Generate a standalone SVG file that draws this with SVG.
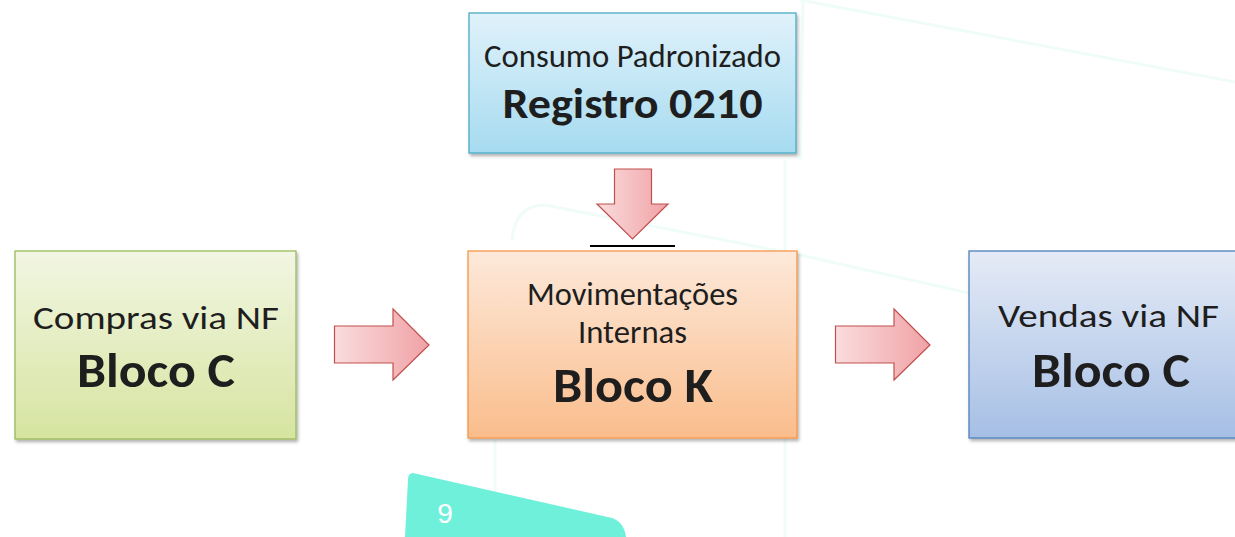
<svg xmlns="http://www.w3.org/2000/svg" width="1235" height="537" viewBox="0 0 1235 537">
<defs>
<linearGradient id="gBlue" x1="0" y1="0" x2="0" y2="1"><stop offset="0" stop-color="#e0f2fa"/><stop offset="1" stop-color="#a6dbf0"/></linearGradient>
<linearGradient id="gGreen" x1="0" y1="0" x2="0" y2="1"><stop offset="0" stop-color="#f2f6e3"/><stop offset="1" stop-color="#d6e4a0"/></linearGradient>
<linearGradient id="gOrange" x1="0" y1="0" x2="0" y2="1"><stop offset="0" stop-color="#fde9da"/><stop offset="1" stop-color="#fabd8c"/></linearGradient>
<linearGradient id="gSteel" x1="0" y1="0" x2="0" y2="1"><stop offset="0" stop-color="#e5ebf6"/><stop offset="1" stop-color="#a6bfe5"/></linearGradient>
<linearGradient id="gArrow" x1="0" y1="0" x2="1" y2="0"><stop offset="0" stop-color="#fadcdd"/><stop offset="1" stop-color="#f0a2a6"/></linearGradient>
<filter id="sh" x="-5%" y="-5%" width="115%" height="120%"><feDropShadow dx="1.5" dy="2.5" stdDeviation="1.5" flood-color="#000" flood-opacity="0.3"/></filter>
</defs>
<style>
.t{font-family:Carlito,Lato,"Open Sans",sans-serif;fill:#1e1e1e;text-anchor:middle}
.r{font-size:32px}
.b{font-size:48px;font-weight:bold}
.bg{fill:none;stroke:#f0fcf9;stroke-width:3}
.arr{stroke:#c0504d;stroke-width:1.2}
</style>
<rect width="1235" height="537" fill="#ffffff"/>
<g id="background">
<path class="bg" d="M800 0 L1235 82"/>
<path class="bg" d="M512 240 Q515 205 545 205 L800 255 L1000 300"/>
<path class="bg" d="M495 440 L495 537"/>
<path class="bg" d="M785 160 L785 537"/>
<path class="bg" d="M803 0 L800 160"/>
<path d="M413 473 Q408 473 408 480 L405 537 L626 537 Q624 522 612 518 Z" fill="#6ff0da"/>
<text x="445" y="523" font-family="'Liberation Sans',Arial,sans-serif" font-size="28" fill="#ffffff" text-anchor="middle">9</text>
</g>
<g id="connectors">
<path class="arr" fill="url(#gArrow)" d="M614.5 169 L651.5 169 L651.5 204 L668 204 L632.5 239 L597 204 L614.5 204 Z"/>
<line x1="590" y1="246" x2="675" y2="246" stroke="#000" stroke-width="2"/>
<path class="arr" fill="url(#gArrow)" d="M334.5 326 L393 326 L393 309 L429 345 L393 380 L393 363 L334.5 363 Z"/>
<path class="arr" fill="url(#gArrow)" d="M835.5 326 L894 326 L894 309 L930 345 L894 380 L894 363 L835.5 363 Z"/>
</g>
<g id="node-registro">
<rect x="469" y="13" width="327" height="140" fill="url(#gBlue)" stroke="#4bacc6" stroke-width="1.3" filter="url(#sh)"/>
<text class="t r" x="632.5" y="67" textLength="297" lengthAdjust="spacingAndGlyphs">Consumo Padronizado</text>
<text class="t" x="632.5" y="118" font-size="43" font-weight="bold" textLength="260" lengthAdjust="spacingAndGlyphs">Registro 0210</text>
</g>
<g id="node-compras">
<rect x="15" y="251" width="281" height="188" fill="url(#gGreen)" stroke="#9bbb59" stroke-width="1.3" filter="url(#sh)"/>
<text class="t r" x="156" y="329" textLength="246" lengthAdjust="spacingAndGlyphs">Compras via NF</text>
<text class="t b" x="156" y="387" textLength="158" lengthAdjust="spacingAndGlyphs">Bloco C</text>
</g>
<g id="node-bloco-k">
<rect x="468" y="251" width="329" height="187" fill="url(#gOrange)" stroke="#f79646" stroke-width="1.3" filter="url(#sh)"/>
<text class="t r" x="632.5" y="305" textLength="211" lengthAdjust="spacingAndGlyphs">Movimentações</text>
<text class="t r" x="632.5" y="343" textLength="109" lengthAdjust="spacingAndGlyphs">Internas</text>
<text class="t b" x="633" y="402" textLength="160" lengthAdjust="spacingAndGlyphs">Bloco K</text>
</g>
<g id="node-vendas">
<rect x="969" y="251" width="280" height="187" fill="url(#gSteel)" stroke="#4f81bd" stroke-width="1.3" filter="url(#sh)"/>
<text class="t r" x="1108.5" y="327" textLength="221" lengthAdjust="spacingAndGlyphs">Vendas via NF</text>
<text class="t b" x="1111" y="387" textLength="158" lengthAdjust="spacingAndGlyphs">Bloco C</text>
</g>
</svg>
